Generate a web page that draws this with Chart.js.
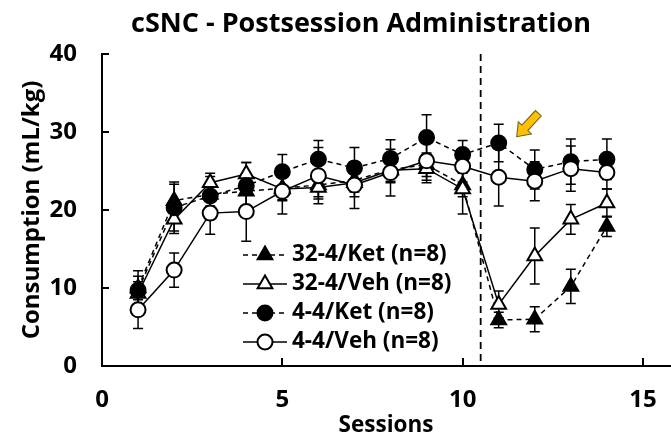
<!DOCTYPE html>
<html>
<head>
<meta charset="utf-8">
<script src="https://cdn.jsdelivr.net/npm/chart.js@4.4.1/dist/chart.umd.min.js"></script>
<style>
  html, body { margin: 0; padding: 0; background: #fff; }
</style>
</head>
<body>
<canvas id="cnsChart" width="671" height="439"></canvas>
<script>
// --- data ---
const sessions = [1, 2, 3, 4, 5, 6, 7, 8, 9, 10, 11, 12, 13, 14];
const xTicks = [0, 5, 10, 15];
const yTicks = [0, 10, 20, 30, 40];

const ket32 = [10.0, 21.2, 22.0, 22.4, 22.8, 23.2, 23.8, 25.2, 25.8, 23.2, 5.9, 6.0, 10.2, 17.9];
const ket32Err = [1.5, 2.4, 1.5, 2.0, 1.5, 1.5, 1.5, 1.5, 1.5, 1.5, 1.0, 1.6, 2.2, 1.3];
const veh32 = [9.3, 18.8, 23.5, 24.6, 22.7, 22.9, 23.5, 25.1, 25.3, 22.7, 7.9, 14.1, 18.8, 20.9];
const veh32Err = [1.5, 1.8, 1.2, 1.5, 1.5, 1.5, 1.8, 1.6, 1.8, 3.2, 1.7, 3.6, 1.9, 1.8];
const ket44 = [9.7, 20.3, 21.8, 23.1, 24.9, 26.5, 25.4, 26.6, 29.3, 27.1, 28.6, 25.2, 26.2, 26.5];
const ket44Err = [2.5, 3.0, 2.5, 3.0, 2.2, 2.4, 2.6, 2.4, 2.9, 1.8, 2.4, 2.5, 2.9, 2.6];
const veh44 = [7.2, 12.3, 19.6, 19.8, 22.4, 24.4, 23.2, 24.8, 26.3, 25.6, 24.2, 23.7, 25.3, 24.8];
const veh44Err = [2.4, 2.2, 2.7, 3.8, 2.9, 3.6, 3.0, 3.0, 2.5, 2.0, 3.7, 2.5, 2.9, 2.1];

const switchSession = 10.5;
const arrowTail = { x: 12.1, y: 32.4 };
const arrowTip = { x: 11.5, y: 29.4 };

const FONT = '"Open Sans", Lato, sans-serif';

function series(label, vals, errs, style, filled, dashed, order) {
    return {
        label: label,
        data: sessions.map((s, i) => ({ x: s, y: vals[i] })),
        errors: errs,
        borderColor: '#000',
        borderWidth: 1.5,
        borderDash: dashed ? [5, 4] : [],
        pointStyle: style,
        pointRadius: style === 'triangle' ? 8.5 : 7.5,
        pointHoverRadius: style === 'triangle' ? 8.5 : 7.5,
        pointBackgroundColor: filled ? '#000' : '#fff',
        pointBorderColor: '#000',
        pointBorderWidth: 2,
        tension: 0,
        order: order
    };
}

// error bars + session divider, under the markers
const errorBars = {
    id: 'errorBars',
    beforeDatasetsDraw(chart) {
        const { ctx, chartArea: a, scales: { x, y } } = chart;
        ctx.save();
        ctx.strokeStyle = '#000';
        ctx.lineWidth = 1.8;
        ctx.setLineDash([7, 5]);
        const sx = x.getPixelForValue(switchSession);
        ctx.beginPath();
        ctx.moveTo(sx, a.top);
        ctx.lineTo(sx, a.bottom);
        ctx.stroke();
        ctx.setLineDash([]);
        ctx.lineWidth = 1.5;
        chart.data.datasets.forEach(ds => {
            ds.data.forEach((p, j) => {
                const e = ds.errors[j];
                const px = x.getPixelForValue(p.x);
                const top = y.getPixelForValue(p.y + e);
                const bot = y.getPixelForValue(p.y - e);
                ctx.beginPath();
                ctx.moveTo(px, top); ctx.lineTo(px, bot);
                ctx.moveTo(px - 5, top); ctx.lineTo(px + 5, top);
                ctx.moveTo(px - 5, bot); ctx.lineTo(px + 5, bot);
                ctx.stroke();
            });
        });
        ctx.restore();
    }
};

// excel-like tick marks pointing into the plot
const inwardTicks = {
    id: 'inwardTicks',
    afterDatasetsDraw(chart) {
        const { ctx, chartArea: a, scales: { x, y } } = chart;
        ctx.save();
        ctx.strokeStyle = '#000';
        ctx.lineWidth = 2;
        ctx.beginPath();
        y.ticks.forEach(t => {
            if (t.value === 0) return;
            const py = Math.round(y.getPixelForValue(t.value));
            ctx.moveTo(a.left, py); ctx.lineTo(a.left + 7, py);
        });
        x.ticks.forEach(t => {
            if (t.value === 0) return;
            const px = Math.round(x.getPixelForValue(t.value));
            ctx.moveTo(px, a.bottom); ctx.lineTo(px, a.bottom - 8);
        });
        ctx.stroke();
        ctx.restore();
    }
};

function drawArrow(ctx, x1, y1, x2, y2) {
    const ang = Math.atan2(y2 - y1, x2 - x1);
    const len = Math.hypot(x2 - x1, y2 - y1);
    const sw = 4, hw = 9, hl = 12;
    ctx.save();
    ctx.translate(x1, y1);
    ctx.rotate(ang);
    ctx.beginPath();
    ctx.moveTo(0, -sw);
    ctx.lineTo(len - hl, -sw);
    ctx.lineTo(len - hl, -hw);
    ctx.lineTo(len, 0);
    ctx.lineTo(len - hl, hw);
    ctx.lineTo(len - hl, sw);
    ctx.lineTo(0, sw);
    ctx.closePath();
    ctx.fillStyle = '#FFC000';
    ctx.fill();
    ctx.strokeStyle = '#6b5a1e';
    ctx.lineWidth = 1;
    ctx.stroke();
    ctx.restore();
}

// title, legend box inside the plot, arrow
const extras = {
    id: 'extras',
    afterDraw(chart) {
        const { ctx, scales: { x, y } } = chart;
        ctx.save();
        ctx.fillStyle = '#000';
        ctx.font = 'bold 27px ' + FONT;
        ctx.textAlign = 'center';
        ctx.textBaseline = 'middle';
        ctx.fillText('cSNC - Postsession Administration', 361, 24);

        drawArrow(ctx, x.getPixelForValue(arrowTail.x), y.getPixelForValue(arrowTail.y),
            x.getPixelForValue(arrowTip.x), y.getPixelForValue(arrowTip.y));

        ctx.textAlign = 'left';
        ctx.font = 'bold 22.5px ' + FONT;
        chart.data.datasets.forEach((ds, i) => {
            const yy = 255 + i * 29;
            ctx.strokeStyle = '#000';
            ctx.lineWidth = 1.5;
            ctx.setLineDash(ds.borderDash);
            ctx.beginPath();
            ctx.moveTo(243, yy); ctx.lineTo(287, yy);
            ctx.stroke();
            ctx.setLineDash([]);
            ctx.fillStyle = ds.pointBackgroundColor;
            ctx.strokeStyle = ds.pointBorderColor;
            ctx.lineWidth = ds.pointBorderWidth;
            Chart.helpers.drawPoint(ctx, {
                pointStyle: ds.pointStyle, radius: ds.pointRadius,
                rotation: 0, borderWidth: ds.pointBorderWidth
            }, 265, yy);
            ctx.fillStyle = '#000';
            ctx.fillText(ds.label, 292, yy);
        });
        ctx.restore();
    }
};

const ctx = document.getElementById('cnsChart').getContext('2d');
new Chart(ctx, {
    type: 'line',
    data: {
        datasets: [
            series('32-4/Ket (n=8)', ket32, ket32Err, 'triangle', true, true, 3),
            series('32-4/Veh (n=8)', veh32, veh32Err, 'triangle', false, false, 2),
            series('4-4/Ket (n=8)', ket44, ket44Err, 'circle', true, true, 1),
            series('4-4/Veh (n=8)', veh44, veh44Err, 'circle', false, false, 0)
        ]
    },
    options: {
        responsive: false,
        animation: false,
        events: [],
        layout: { autoPadding: false, padding: { top: 54, right: 1, left: 0, bottom: 0 } },
        scales: {
            x: {
                type: 'linear', min: 0, max: 15.75,
                afterBuildTicks: s => { s.ticks = xTicks.map(v => ({ value: v })); },
                afterFit: s => { s.height = 73; s.paddingRight = 0; s.paddingLeft = 0; },
                grid: { display: true, drawOnChartArea: false, drawTicks: false },
                border: { display: true, color: '#000', width: 2 },
                ticks: { color: '#000', padding: 20, font: { family: FONT, size: 24, weight: 'bold' } },
                title: { display: true, text: 'Sessions', color: '#000', padding: { top: 0, bottom: 0 },
                    font: { family: FONT, size: 22.5, weight: 'bold' } }
            },
            y: {
                min: 0, max: 40,
                afterBuildTicks: s => { s.ticks = yTicks.map(v => ({ value: v })); },
                afterFit: s => { s.width = 102; },
                grid: { display: true, drawOnChartArea: false, drawTicks: false },
                border: { display: true, color: '#000', width: 2 },
                ticks: { color: '#000', padding: 25, font: { family: FONT, size: 24, weight: 'bold' } },
                title: { display: true, text: 'Consumption (mL/kg)', color: '#000', padding: { top: 18, bottom: 0 },
                    font: { family: FONT, size: 24, weight: 'bold' } }
            }
        },
        plugins: {
            legend: { display: false },
            tooltip: { enabled: false }
        }
    },
    plugins: [errorBars, inwardTicks, extras]
});
</script>
</body>
</html>
